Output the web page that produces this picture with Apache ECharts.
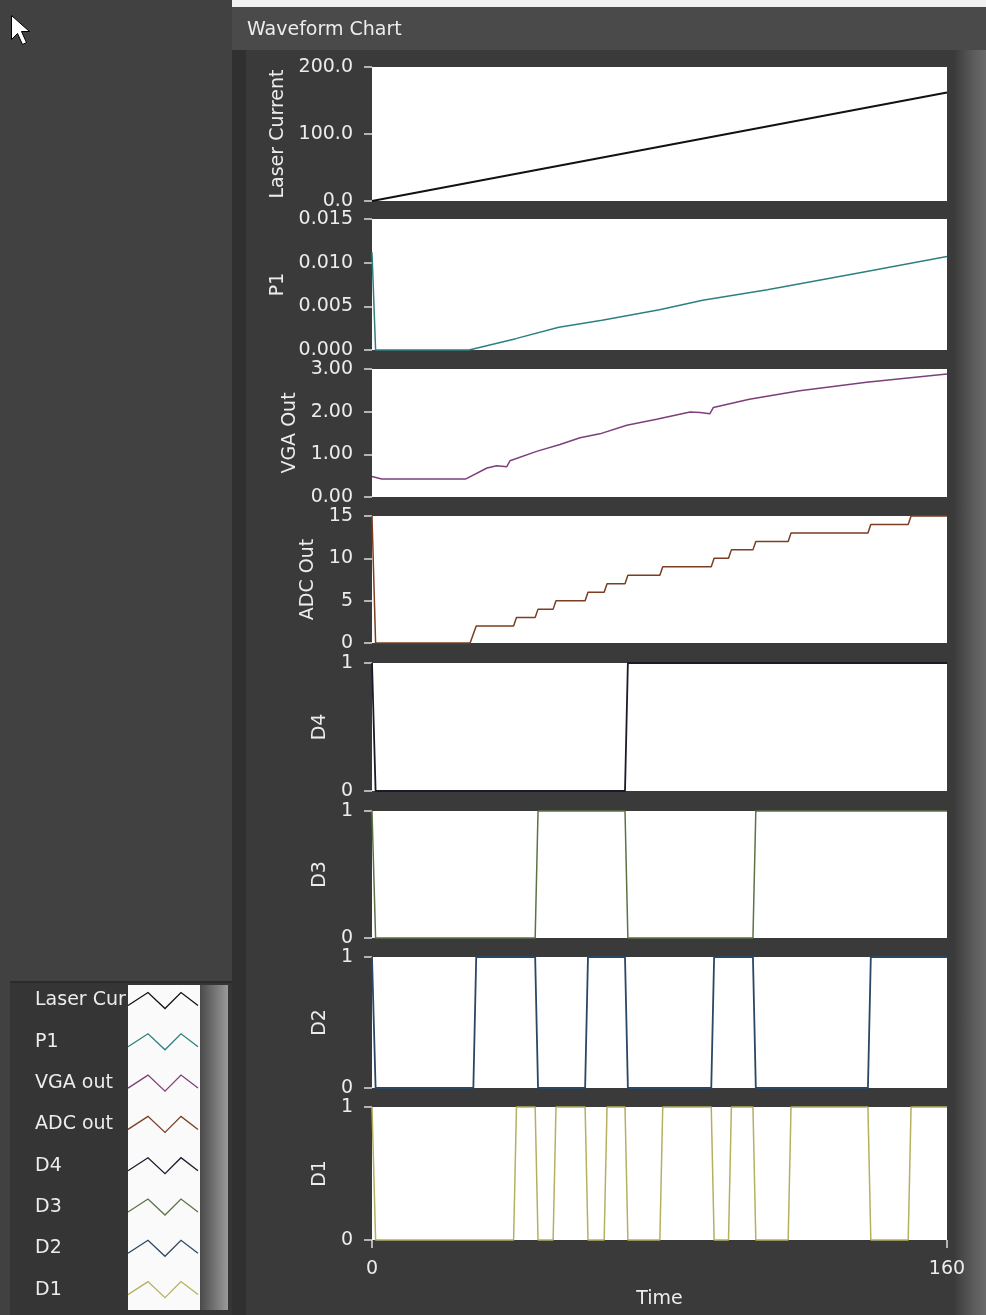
<!DOCTYPE html>
<html><head><meta charset="utf-8">
<script src="https://cdn.jsdelivr.net/npm/echarts@6/dist/echarts.min.js"></script>
<style>
html,body{margin:0;padding:0;width:986px;height:1315px;overflow:hidden;background:#414141;}
.bg{position:absolute;}
#chart{position:absolute;left:0;top:0;width:986px;height:1315px;}
</style></head><body>
<div class="bg" style="left:232px;top:0;width:754px;height:7px;background:#f2f2f2"></div>
<div class="bg" style="left:232px;top:7px;width:754px;height:43px;background:#4a4a4a"></div>
<div class="bg" style="left:232px;top:50px;width:754px;height:1265px;background:#3a3a3a"></div>
<div class="bg" style="left:232px;top:50px;width:14px;height:1265px;background:#303030"></div>
<div class="bg" style="left:955px;top:50px;width:31px;height:1265px;background:linear-gradient(to right,#3c3c3c,#5c5c5c 60%,#6a6a6a)"></div>
<div class="bg" style="left:10px;top:981px;width:222px;height:332px;background:#353535;border-top:2px solid #2a2a2a"></div>
<div class="bg" style="left:128px;top:985px;width:72px;height:325px;background:#fafafa"></div>
<div class="bg" style="left:200px;top:985px;width:28px;height:325px;background:linear-gradient(to right,#4a4a4a,#9a9a9a)"></div>
<div id="chart"></div>
<script>
// ---- data ----
const seriesNames = ['Laser Cur', 'P1', 'VGA out', 'ADC out', 'D4', 'D3', 'D2', 'D1'];
const axisNames = ['Laser Current', 'P1', 'VGA Out', 'ADC Out', 'D4', 'D3', 'D2', 'D1'];

const laserTime = [0, 80, 160];
const laserValue = [0, 81, 162];

const p1Time = [0, 1, 27, 40, 52, 64, 80, 92, 110, 135, 160];
const p1Value = [0.0112, 0, 0, 0.0013, 0.0026, 0.0034, 0.0046, 0.0057, 0.0069, 0.0088, 0.0107];

const vgaTime = [0, 2.7, 26, 32, 34.7, 37.5, 38.4, 45.8, 52.3, 57.9, 63.4, 70.9, 79.2, 88.5, 91.3, 94, 95, 105, 119, 137.6, 160];
const vgaValue = [0.48, 0.42, 0.42, 0.68, 0.73, 0.71, 0.85, 1.07, 1.23, 1.39, 1.48, 1.68, 1.82, 1.99, 1.98, 1.95, 2.10, 2.29, 2.49, 2.69, 2.88];

const adcTime = [0, 1, 27.3, 29, 39.4, 40.2, 45.4, 46.2, 50.4, 51.2, 59.3, 60.1, 64.6, 65.4, 70.4, 71.2, 80.1, 80.9, 94.4, 95.2, 99.2, 100, 106, 106.8, 115.8, 116.6, 138, 138.8, 149.2, 150, 160];
const adcValue = [15, 0, 0, 2, 2, 3, 3, 4, 4, 5, 5, 6, 6, 7, 7, 8, 8, 9, 9, 10, 10, 11, 11, 12, 12, 13, 13, 14, 14, 15, 15];

const d4Time = [0, 1, 70.4, 71.2, 160];
const d4Value = [1, 0, 0, 1, 1];

const d3Time = [0, 1, 45.4, 46.2, 70.4, 71.2, 106, 106.8, 160];
const d3Value = [1, 0, 0, 1, 1, 0, 0, 1, 1];

const d2Time = [0, 1, 28.2, 29, 45.4, 46.2, 59.3, 60.1, 70.4, 71.2, 94.4, 95.2, 106, 106.8, 138, 138.8, 160];
const d2Value = [1, 0, 0, 1, 1, 0, 0, 1, 1, 0, 0, 1, 1, 0, 0, 1, 1];

const d1Time = [0, 1, 39.4, 40.2, 45.4, 46.2, 50.4, 51.2, 59.3, 60.1, 64.6, 65.4, 70.4, 71.2, 80.1, 80.9, 94.4, 95.2, 99.2, 100, 106, 106.8, 115.8, 116.6, 138, 138.8, 149.2, 150, 160];
const d1Value = [1, 0, 0, 1, 1, 0, 0, 1, 1, 0, 0, 1, 1, 0, 0, 1, 1, 0, 0, 1, 1, 0, 0, 1, 1, 0, 0, 1, 1];

const yMin = [0, 0, 0, 0, 0, 0, 0, 0];
const yMax = [200, 0.015, 3, 15, 1, 1, 1, 1];
const yInterval = [100, 0.005, 1, 5, 1, 1, 1, 1];
const yDecimals = [1, 3, 2, 0, 0, 0, 0, 0];
const xMin = 0, xMax = 160;

// ---- layout / style ----
const gridTop = [67, 219, 369, 516, 663, 811, 957, 1107];
const gridHeight = [134, 131, 128, 127, 128, 127, 131, 133];
const nameGaps = [76, 76, 65, 49, 31, 31, 31, 31];
const colors = ['#111111', '#2e8080', '#7d3f7b', '#7a3e22', '#1a1a2a', '#5b7245', '#2b4766', '#b4b060'];
const lineWidths = [2, 1.5, 1.5, 1.5, 1.8, 1.5, 1.8, 1.5];
const FONT = 'DejaVu Sans';
const TXT = '#ececec';

const seriesTimes = [laserTime, p1Time, vgaTime, adcTime, d4Time, d3Time, d2Time, d1Time];
const seriesValues = [laserValue, p1Value, vgaValue, adcValue, d4Value, d3Value, d2Value, d1Value];

const grids = [], xAxes = [], yAxes = [], series = [];
for (let i = 0; i < 8; i++) {
  grids.push({left: 372, right: 39, top: gridTop[i], height: gridHeight[i], show: true, backgroundColor: '#ffffff', borderWidth: 0});
  const last = i === 7;
  xAxes.push({
    type: 'value', gridIndex: i, min: xMin, max: xMax, interval: 160,
    show: last, offset: 5,
    axisLine: {show: false},
    axisTick: {show: true, length: 8, lineStyle: {color: '#dddddd', width: 1.5}},
    axisLabel: {show: true, margin: 15, color: TXT, fontSize: 19, fontFamily: FONT},
    splitLine: {show: false},
    name: last ? 'Time' : '', nameLocation: 'middle', nameGap: 45,
    nameTextStyle: {color: TXT, fontSize: 19, fontFamily: FONT}
  });
  const dec = yDecimals[i];
  yAxes.push({
    type: 'value', gridIndex: i, min: yMin[i], max: yMax[i], interval: yInterval[i],
    offset: 5,
    axisLine: {show: false},
    axisTick: {show: true, length: 8, lineStyle: {color: '#dddddd', width: 1.5}},
    axisLabel: {margin: 14, color: TXT, fontSize: 19, fontFamily: FONT, formatter: v => Number(v).toFixed(dec)},
    splitLine: {show: false},
    name: axisNames[i], nameLocation: 'middle', nameGap: nameGaps[i],
    nameTextStyle: {color: TXT, fontSize: 19, fontFamily: FONT}
  });
  const t = seriesTimes[i], v = seriesValues[i];
  series.push({
    name: seriesNames[i], type: 'line', xAxisIndex: i, yAxisIndex: i,
    data: t.map((tt, k) => [tt, v[k]]),
    showSymbol: false, symbol: 'none', clip: false,
    lineStyle: {color: colors[i], width: lineWidths[i]},
    itemStyle: {color: colors[i]}
  });
}

const chart = echarts.init(document.getElementById('chart'), null, {renderer: 'canvas'});
chart.setOption({
  animation: false,
  backgroundColor: 'transparent',
  title: {text: 'Waveform Chart', left: 247, top: 21, padding: 0,
    textStyle: {color: TXT, fontSize: 19, fontWeight: 'normal', fontFamily: FONT}},
  legend: {
    orient: 'vertical', left: 35, top: 991, height: 322, padding: 0,
    itemWidth: 70, itemHeight: 16, itemGap: 22.3, align: 'right',
    selectedMode: false,
    icon: 'path://M0,13L20,0L37,16L53,0L70,13',
    data: seriesNames.map((n, i) => ({name: n, itemStyle: {color: 'rgba(0,0,0,0)', borderColor: colors[i], borderWidth: 1.3}})),
    formatter: n => '{a|' + n + '}',
    textStyle: {color: TXT, fontSize: 19, fontFamily: FONT,
      rich: {a: {width: 88, align: 'left', color: TXT, fontSize: 19, fontFamily: FONT}}}
  },
  graphic: [{
    type: 'polygon', left: 11, top: 15,
    shape: {points: [[0, 0], [0, 24], [6, 18], [11, 29], [15, 27], [10, 16], [18, 16]]},
    style: {fill: '#ffffff', stroke: '#000000', lineWidth: 1}
  }],
  grid: grids, xAxis: xAxes, yAxis: yAxes, series: series
});
</script>
</body></html>
